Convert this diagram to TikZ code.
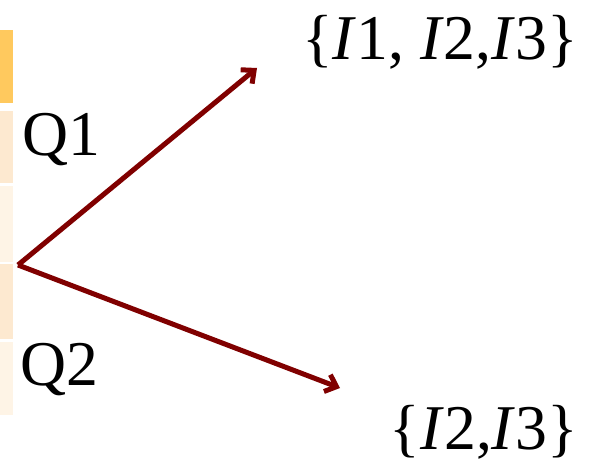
\documentclass[tikz,border=0pt]{standalone}
\usepackage{fontspec}
\setmainfont{Liberation Serif}
\usetikzlibrary{arrows.meta}
\definecolor{darkred}{RGB}{128,0,0}
\definecolor{barA}{RGB}{255,201,94}
\definecolor{barB}{RGB}{253,233,208}
\definecolor{barC}{RGB}{254,244,230}
\tikzset{
  vec/.style={draw=darkred, line width=5bp, -{Straight Barb[length=10bp,width=18bp,line width=5bp]}},
  lbl/.style={inner sep=0pt, font=\fontsize{64}{70}\selectfont},
}
\begin{document}
\begin{tikzpicture}[x=1bp,y=-1bp]
\useasboundingbox (0,0) rectangle (596,473);
\fill[barA] (0,30) rectangle (13,103);
\fill[barB] (0,111) rectangle (13,183);
\fill[barC] (0,186) rectangle (13,262);
\fill[barB] (0,264) rectangle (13,339);
\fill[barC] (0,342) rectangle (13,415);
\coordinate (o) at (18,265);
\coordinate (e1) at (257,68);
\coordinate (e2) at (340,388);
\draw[vec] (o) -- (e1);
\draw[vec] (o) -- (e2);
\node[lbl, anchor=west] (q1) at (22,140) {Q1};
\node[lbl, anchor=west] (q2) at (20,370) {Q2};
\node[lbl, anchor=center] (s1) at (440,42) {\{\textit{I}1, \textit{I}2,\textit{I}3\}};
\node[lbl, anchor=center] (s2) at (484,432) {\{\textit{I}2,\textit{I}3\}};
\end{tikzpicture}
\end{document}
